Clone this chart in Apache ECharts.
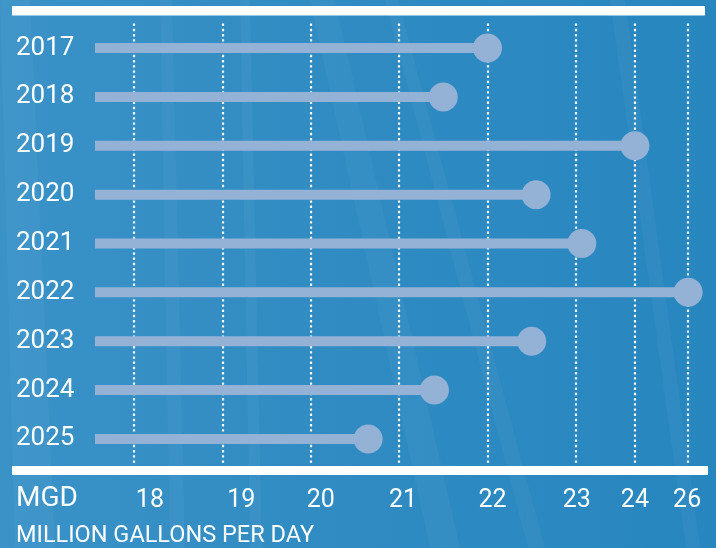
<!DOCTYPE html>
<html><head><meta charset="utf-8">
<script src="https://cdn.jsdelivr.net/npm/echarts@6/dist/echarts.min.js"></script>
<style>html,body{margin:0;padding:0;background:#2b88c0;} #c{width:716px;height:548px;}</style>
</head><body><div id="c"></div>
<script>
const years = ['2017', '2018', '2019', '2020', '2021', '2022', '2023', '2024', '2025'];
const mgd = [22.0, 21.5, 24.0, 22.55, 23.1, 26.0, 22.5, 21.4, 20.65];
const tickValues = [18, 19, 20, 21, 22, 23, 24, 26];
const tickLabels = ['18', '19', '20', '21', '22', '23', '24', '26'];
const unitName = 'MGD';
const unitLong = 'MILLION GALLONS PER DAY';

// The printed axis is linear up to 23 and compressed beyond it (24 and 26 are squeezed).
const scaleKnots = [[17, 17], [23, 23], [24, 23.668], [26, 24.27]];
function warp(v) {
  for (let i = 1; i < scaleKnots.length; i++) {
    const a0 = scaleKnots[i - 1][0], b0 = scaleKnots[i - 1][1];
    const a1 = scaleKnots[i][0], b1 = scaleKnots[i][1];
    if (v <= a1 || i === scaleKnots.length - 1) return b0 + (v - a0) * (b1 - b0) / (a1 - a0);
  }
}
const tickPos = tickValues.map(warp);
// horizontal nudge of each printed tick label (px, style only)
const labelNudge = [16, 19, 10, 4, 5, 1, 0, -1];
const rich = {};
labelNudge.forEach((n, i) => {
  rich['t' + i] = {
    color: '#fff', fontSize: 25, fontFamily: 'Roboto',
    padding: n >= 0 ? [0, 0, 0, 2 * n] : [0, -2 * n, 0, 0]
  };
});
function labelFor(v) {
  let best = 0;
  tickPos.forEach((p, i) => { if (Math.abs(p - v) < Math.abs(tickPos[best] - v)) best = i; });
  return '{t' + best + '|' + tickLabels[best] + '}';
}

const chart = echarts.init(document.getElementById('c'), null, {renderer: 'canvas'});
const lollipop = '#94b1d6';
const streakDefs = [
  [[0,0],[30,0],[55,548],[15,548]],
  [[310,0],[335,0],[460,548],[430,548]],
  [[385,0],[398,0],[545,548],[528,548]],
  [[610,0],[625,0],[700,548],[686,548]],
  [[160,0],[172,0],[185,548],[170,548]],
  [[240,0],[250,0],[262,548],[250,548]]
];
const streaks = streakDefs.map(pts => ({
  type: 'polygon', z: -10, silent: true,
  shape: {points: pts},
  style: {fill: 'rgba(255,255,255,0.035)'}
}));

chart.setOption({
  backgroundColor: {
    type: 'linear', x: 0, y: 0, x2: 1, y2: 0,
    colorStops: [{offset: 0, color: '#3a92c7'}, {offset: 0.5, color: '#2f8bc2'}, {offset: 1, color: '#2886bf'}]
  },
  textStyle: {fontFamily: 'Roboto'},
  animation: false,
  title: [
    {text: unitName, left: 16, top: 485, padding: 0, textStyle: {color: '#fff', fontSize: 28, fontWeight: 'normal', fontFamily: 'Roboto'}},
    {text: unitLong, left: 16, top: 524, padding: 0, textStyle: {color: '#fff', fontSize: 23.5, fontWeight: 'normal', fontFamily: 'Roboto'}}
  ],
  graphic: streaks.concat([
    {type: 'rect', silent: true, shape: {x: 12, y: 6, width: 693, height: 9.5}, style: {fill: '#fff'}},
    {type: 'rect', silent: true, shape: {x: 12, y: 466, width: 696, height: 9}, style: {fill: '#fff'}}
  ]),
  grid: {left: 95, top: 23.6, width: 611.7, height: 439.8, containLabel: false},
  xAxis: {
    type: 'value', min: 17.56, max: 24.48,
    axisLine: {show: false},
    axisTick: {show: false, customValues: tickPos},
    axisLabel: {
      customValues: tickPos, formatter: labelFor, rich: rich,
      color: '#fff', fontSize: 25, margin: 25, fontFamily: 'Roboto'
    },
    splitLine: {show: true, lineStyle: {color: '#fff', width: 2.2, type: [2.4, 2.8]}}
  },
  yAxis: {
    type: 'category', data: years, inverse: true,
    axisLine: {show: false}, axisTick: {show: false}, splitLine: {show: false},
    axisLabel: {color: '#fff', fontSize: 26, align: 'left', margin: 79, fontFamily: 'Roboto'}
  },
  series: [
    {type: 'bar', data: mgd.map(warp), barWidth: 10, itemStyle: {color: lollipop}, silent: true},
    {type: 'scatter', data: mgd.map((v, i) => [warp(v), years[i]]), symbolSize: 29,
     itemStyle: {color: lollipop, opacity: 1}, z: 3, silent: true}
  ]
});
</script></body></html>
